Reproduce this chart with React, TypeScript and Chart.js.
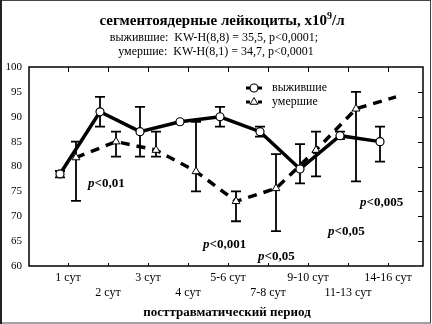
import React, { useEffect, useRef } from 'react';
import { Chart, registerables } from 'chart.js';

Chart.register(...registerables);

// ---- data ----
const categories = ['1 сут', '2 сут', '3 сут', '4 сут', '5-6 сут', '7-8 сут', '9-10 сут', '11-13 сут', '14-16 сут'];
const survivedMean = [78.5, 91, 87, 89, 90, 87, 79.5, 86.2, 85];
const survivedLow: (number | null)[] = [77.8, 88, 82, null, 88, 86, 76.6, 85.5, 81];
const survivedHigh: (number | null)[] = [79.1, 94, 92, null, 92, 88, 84.5, 87, 88];
const diedMean = [81.8, 85, 83.3, 79, 73, 75.6, 83.3, 91.6, 94];
const diedLow: (number | null)[] = [73.1, 82, 82, 75, 69, 67, 78, 77, null];
const diedHigh: (number | null)[] = [85, 87, 87, 89, 75, 82.5, 87, 95, null];
const diedMarkerShown = [true, true, true, true, true, true, true, true, false];
const seriesNames = ['выжившие', 'умершие'];
const titleMain = 'сегментоядерные лейкоциты, x10';
const titleSup = '9';
const titleUnit = '/л';
const subtitles = ['выжившие:  KW-H(8,8) = 35,5, p<0,0001;', 'умершие:  KW-H(8,1) = 34,7, p<0,0001'];
const xAxisTitle = 'посттравматический период';
const pNoteTexts = ['<0,01', '<0,001', '<0,05', '<0,05', '<0,005'];
const pNoteX = [0.5, 3.375, 4.75, 6.5, 7.3];
const pNoteY = [76.5, 64.2, 61.9, 66.9, 72.8];

const FONT = '"Liberation Serif", "Times New Roman", serif';
const OFFSET = 0.2;

function drawTriangle(ctx: CanvasRenderingContext2D, x: number, y: number, r: number) {
  const h = r * 1.5;
  const s = r * Math.sqrt(3);
  ctx.beginPath();
  ctx.moveTo(x, y - h * 2 / 3);
  ctx.lineTo(x + s / 2, y + h / 3);
  ctx.lineTo(x - s / 2, y + h / 3);
  ctx.closePath();
  ctx.fillStyle = '#fff';
  ctx.fill();
  ctx.lineWidth = 1;
  ctx.strokeStyle = '#000';
  ctx.stroke();
}

const overlay = {
  id: 'overlay',
  beforeDraw(chart: any) {
    const ctx = chart.ctx as CanvasRenderingContext2D;
    ctx.save();
    ctx.fillStyle = '#fff';
    ctx.fillRect(0, 0, chart.width, chart.height);
    ctx.restore();
  },
  beforeDatasetsDraw(chart: any) {
    const ctx = chart.ctx as CanvasRenderingContext2D;
    const xs = chart.scales.x;
    const ys = chart.scales.y;
    ctx.save();
    ctx.strokeStyle = '#000';
    ctx.lineWidth = 1.8;
    const cap = 5;
    const draw = (lo: (number | null)[], hi: (number | null)[], off: number) => {
      lo.forEach((l, i) => {
        const h = hi[i];
        if (l == null || h == null || l === h) return;
        const x = xs.getPixelForValue(i + off);
        const y1 = ys.getPixelForValue(l);
        const y2 = ys.getPixelForValue(h);
        ctx.beginPath();
        ctx.moveTo(x, y1);
        ctx.lineTo(x, y2);
        ctx.moveTo(x - cap, y1);
        ctx.lineTo(x + cap, y1);
        ctx.moveTo(x - cap, y2);
        ctx.lineTo(x + cap, y2);
        ctx.stroke();
      });
    };
    draw(survivedLow, survivedHigh, -OFFSET);
    draw(diedLow, diedHigh, OFFSET);
    ctx.restore();
  },
  afterDraw(chart: any) {
    const ctx = chart.ctx as CanvasRenderingContext2D;
    const a = chart.chartArea;
    const xs = chart.scales.x;
    const ys = chart.scales.y;
    ctx.save();
    // plot frame
    ctx.strokeStyle = '#000';
    ctx.lineWidth = 1.5;
    ctx.strokeRect(a.left, a.top, a.right - a.left, a.bottom - a.top);
    // inward ticks
    ctx.lineWidth = 1;
    ctx.beginPath();
    categories.forEach((_, i) => {
      const x = Math.round(xs.getPixelForValue(i)) + 0.5;
      ctx.moveTo(x, a.top);
      ctx.lineTo(x, a.top + 5);
      ctx.moveTo(x, a.bottom);
      ctx.lineTo(x, a.bottom - 3);
    });
    for (let v = 65; v < 100; v += 5) {
      const y = Math.round(ys.getPixelForValue(v)) + 0.5;
      ctx.moveTo(a.right, y);
      ctx.lineTo(a.right - 5, y);
    }
    ctx.stroke();

    // title
    ctx.fillStyle = '#000';
    ctx.textBaseline = 'alphabetic';
    ctx.textAlign = 'left';
    const fMain = `bold 15px ${FONT}`;
    const fSup = `bold 10px ${FONT}`;
    ctx.font = fMain;
    const w1 = ctx.measureText(titleMain).width;
    const w3 = ctx.measureText(titleUnit).width;
    ctx.font = fSup;
    const w2 = ctx.measureText(titleSup).width;
    let tx = 222 - (w1 + w2 + w3) / 2;
    ctx.font = fMain;
    ctx.fillText(titleMain, tx, 25);
    tx += w1;
    ctx.font = fSup;
    ctx.fillText(titleSup, tx, 19);
    tx += w2;
    ctx.font = fMain;
    ctx.fillText(titleUnit, tx, 25);

    // subtitles
    ctx.font = `12px ${FONT}`;
    ctx.textAlign = 'center';
    ctx.textBaseline = 'middle';
    ctx.fillText(subtitles[0], 214, 38);
    ctx.fillText(subtitles[1], 216, 52);

    // x axis title
    ctx.font = `bold 13px ${FONT}`;
    ctx.fillText(xAxisTitle, 227, 313);

    // legend
    const lx = 246;
    const ly = [88, 102];
    ctx.lineWidth = 3;
    ctx.beginPath();
    ctx.moveTo(lx, ly[0]);
    ctx.lineTo(lx + 16, ly[0]);
    ctx.stroke();
    ctx.beginPath();
    ctx.arc(lx + 8, ly[0], 4, 0, Math.PI * 2);
    ctx.fillStyle = '#fff';
    ctx.fill();
    ctx.lineWidth = 1.2;
    ctx.stroke();
    ctx.lineWidth = 3;
    ctx.beginPath();
    ctx.moveTo(lx, ly[1]);
    ctx.lineTo(lx + 4, ly[1]);
    ctx.moveTo(lx + 12, ly[1]);
    ctx.lineTo(lx + 16, ly[1]);
    ctx.stroke();
    drawTriangle(ctx, lx + 8, ly[1], 4.5);
    ctx.fillStyle = '#000';
    ctx.font = `12px ${FONT}`;
    ctx.textAlign = 'left';
    ctx.textBaseline = 'middle';
    ctx.fillText(seriesNames[0], lx + 26, ly[0]);
    ctx.fillText(seriesNames[1], lx + 26, ly[1]);

    // p notes
    pNoteTexts.forEach((t, i) => {
      const x = xs.getPixelForValue(pNoteX[i]);
      const y = ys.getPixelForValue(pNoteY[i]);
      ctx.font = `bold italic 13px ${FONT}`;
      ctx.fillText('p', x, y);
      const pw = ctx.measureText('p').width;
      ctx.font = `bold 13px ${FONT}`;
      ctx.fillText(t, x + pw, y);
    });

    // outer border
    ctx.strokeStyle = '#444';
    ctx.lineWidth = 1;
    ctx.strokeRect(0.5, 0.5, chart.width - 2, chart.height - 1.5);
    ctx.fillStyle = '#222';
    ctx.fillRect(0, 0, 2, chart.height);
    ctx.restore();
  },
};

export default function App() {
  const ref = useRef<HTMLCanvasElement | null>(null);
  useEffect(() => {
    document.body.style.margin = '0';
    const canvas = ref.current!;
    const chart = new Chart(canvas, {
      type: 'scatter',
      data: {
        datasets: [
          {
            label: seriesNames[0],
            data: survivedMean.map((y, i) => ({ x: i - OFFSET, y })),
            showLine: true,
            borderColor: '#000',
            borderWidth: 3.5,
            pointStyle: 'circle',
            pointRadius: 4,
            pointBackgroundColor: '#fff',
            pointBorderColor: '#000',
            pointBorderWidth: 1.2,
          },
          {
            label: seriesNames[1],
            data: diedMean.map((y, i) => ({ x: i + OFFSET, y })),
            showLine: true,
            borderColor: '#000',
            borderWidth: 3.5,
            borderDash: [9, 7],
            pointStyle: 'triangle',
            pointRadius: diedMarkerShown.map((s) => (s ? 4.5 : 0)),
            pointBackgroundColor: '#fff',
            pointBorderColor: '#000',
            pointBorderWidth: 1,
          },
        ],
      },
      options: {
        responsive: false,
        animation: false,
        devicePixelRatio: 1,
        layout: { padding: { top: 67, right: 9, left: 0, bottom: 0 } },
        plugins: { legend: { display: false }, title: { display: false }, tooltip: { enabled: false } },
        scales: {
          x: {
            type: 'linear',
            min: -0.975,
            max: 8.875,
            afterBuildTicks: (s: any) => {
              s.ticks = categories.map((_, i) => ({ value: i }));
            },
            afterFit: (s: any) => {
              s.height = 58;
            },
            grid: { display: false, drawTicks: false },
            border: { display: false },
            ticks: {
              padding: 5,
              color: '#000',
              autoSkip: false,
              maxRotation: 0,
              font: { family: FONT, size: 12 },
              callback: (v: any) => {
                const i = Math.round(Number(v));
                const l = categories[i];
                return i % 2 === 0 ? l : ['', l];
              },
            },
          },
          y: {
            min: 60,
            max: 100,
            afterFit: (s: any) => {
              s.width = 29;
            },
            grid: { display: false, drawTicks: false },
            border: { display: false },
            ticks: {
              stepSize: 5,
              padding: 7,
              color: '#000',
              font: { family: FONT, size: 11 },
            },
          },
        },
      },
      plugins: [overlay],
    } as any);
    return () => chart.destroy();
  }, []);
  return (
    <div style={{ position: 'absolute', left: 0, top: 0 }}>
      <canvas ref={ref} width={432} height={324} />
    </div>
  );
}
